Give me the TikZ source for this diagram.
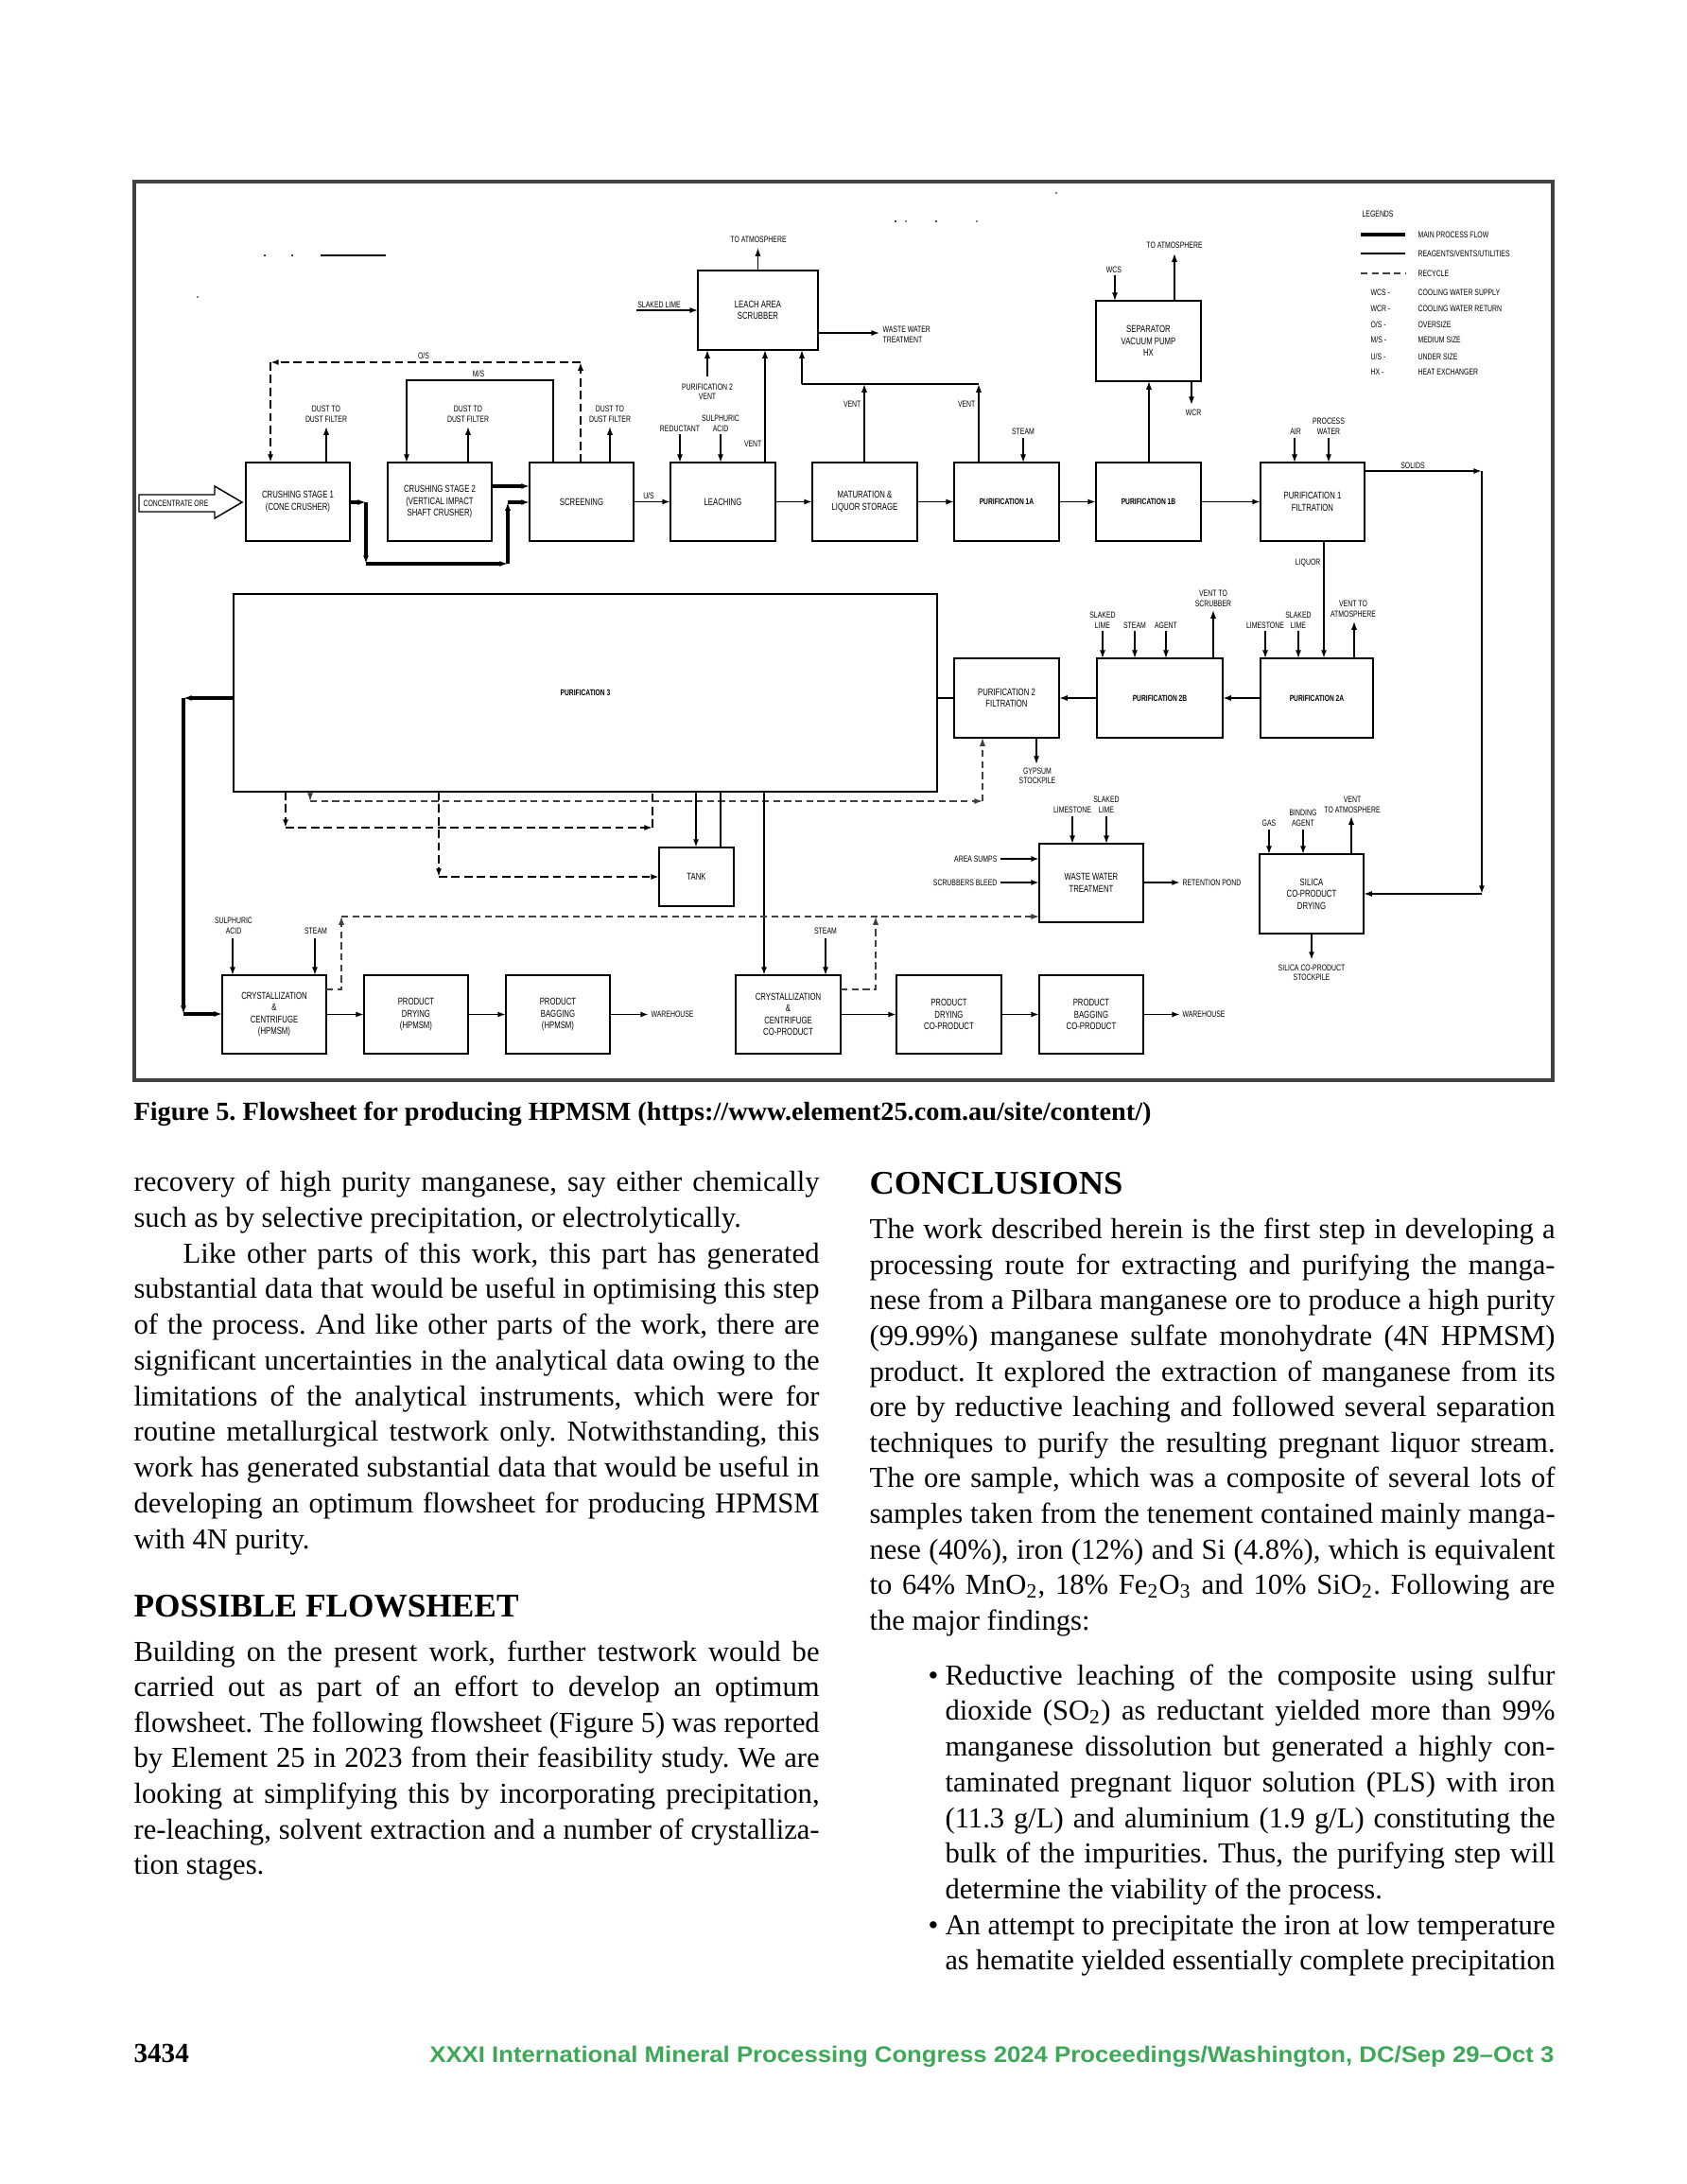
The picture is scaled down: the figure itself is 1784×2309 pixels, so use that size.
\documentclass[tikz,border=0pt]{standalone}
\usepackage{fontspec}
\usepackage{graphicx}
\setmainfont{Liberation Serif}
\newfontfamily\cadfont[FakeStretch=0.74]{Liberation Sans}
\newfontfamily\footsans{Liberation Sans}
\usetikzlibrary{arrows.meta}
\definecolor{ftgreen}{RGB}{62,168,88}
\newdimen\colw \colw=248.71pt
\newdimen\indw \indw=230.87pt
\newdimen\bulw \bulw=221.27pt
\newsavebox\lnbox
\newcommand\jl[2]{\sbox\lnbox{#2}\ifdim\wd\lnbox>#1\relax\resizebox{#1}{\height}{\usebox\lnbox}\else\makebox[#1][s]{#2}\fi}
\newcommand\fitw[2]{\resizebox{#1}{\height}{#2}}
\newcommand\bx[7]{\node[#1, minimum width={(#5-#3)*0.34305pt}, minimum height={(#6-#4)*0.34305pt}] (#2) at ({(#3+#5)/2},{(#4+#6)/2}) {#7};}
\frenchspacing
\begin{document}
\begin{tikzpicture}[x=0.34305pt,y=-0.34305pt,
 box/.style={draw, line width=0.6pt, inner sep=0pt, outer sep=0pt, align=center, font=\cadfont\fontsize{3.6}{4.3}\selectfont},
 boxb/.style={box, font=\cadfont\bfseries\fontsize{3.1}{3.7}\selectfont},
 lab/.style={inner sep=0pt, align=center, font=\cadfont\fontsize{3.2}{3.7}\selectfont},
 thinln/.style={line width=0.45pt},
 medln/.style={line width=0.6pt},
 mainln/.style={line width=1.1pt},
 arr/.style={-{Latex[length=3pt,width=2.1pt]}},
 recA/.style={line width=0.6pt, dash pattern=on 3pt off 1.6pt},
 recB/.style={line width=0.4pt, dash pattern=on 2.5pt off 1.5pt, black!75},
 body/.style={anchor=base west, inner sep=0pt, font=\fontsize{10.5}{12}\selectfont},
]
\fill[white] (0,0) rectangle (1784,2309);
\useasboundingbox (0,0) rectangle (1784,2309);

% frame
\draw[line width=1.1pt, black!75] (142,192) rectangle (1642,1142);
% stray marks
\draw[line width=0.4pt] (339,270) -- (408,270);
\fill (280,270) circle (0.4pt) (309,270) circle (0.4pt) (209,314) circle (0.3pt)
      (947,234) circle (0.4pt) (958,234) circle (0.3pt) (990,234) circle (0.4pt) (1033,234) circle (0.3pt) (1117,204) circle (0.3pt);

% ---------------- boxes
\bx{box}{cs1}{260}{489}{370}{572}{CRUSHING STAGE 1\\(CONE CRUSHER)}
\bx{box}{cs2}{410}{489}{520}{572}{CRUSHING STAGE 2\\(VERTICAL IMPACT\\SHAFT CRUSHER)}
\bx{box}{scr}{560}{489}{670}{572}{SCREENING}
\bx{box}{leach}{709}{489}{820}{572}{LEACHING}
\bx{box}{mat}{859}{489}{970}{572}{MATURATION \&\\LIQUOR STORAGE}
\bx{boxb}{p1a}{1009}{489}{1120}{572}{PURIFICATION 1A}
\bx{boxb}{p1b}{1159}{489}{1270}{572}{PURIFICATION 1B}
\bx{box}{p1f}{1333}{489}{1443}{572}{PURIFICATION 1\\FILTRATION}
\bx{box}{scrub}{738}{286}{865}{370}{LEACH AREA\\SCRUBBER}
\bx{box}{sep}{1159}{318}{1270}{403}{SEPARATOR\\VACUUM PUMP\\HX}
\bx{boxb}{p3}{247}{628}{991}{837}{PURIFICATION 3}
\bx{box}{p2f}{1009}{696}{1120}{780}{PURIFICATION 2\\FILTRATION}
\bx{boxb}{p2b}{1160}{696}{1293}{780}{PURIFICATION 2B}
\bx{boxb}{p2a}{1333}{696}{1452}{780}{PURIFICATION 2A}
\bx{box}{tank}{697}{896}{776}{958}{TANK}
\bx{box}{wwt}{1099}{892}{1209}{975}{WASTE WATER\\TREATMENT}
\bx{box}{sil}{1332}{903}{1442}{987}{SILICA\\CO-PRODUCT\\DRYING}
\bx{box}{cr1}{235}{1031}{345}{1114}{CRYSTALLIZATION\\\&\\CENTRIFUGE\\(HPMSM)}
\bx{box}{pd1}{385}{1031}{495}{1114}{PRODUCT\\DRYING\\(HPMSM)}
\bx{box}{pb1}{535}{1031}{645}{1114}{PRODUCT\\BAGGING\\(HPMSM)}
\bx{box}{cr2}{778}{1031}{889}{1114}{CRYSTALLIZATION\\\&\\CENTRIFUGE\\CO-PRODUCT}
\bx{box}{pd2}{948}{1031}{1059}{1114}{PRODUCT\\DRYING\\CO-PRODUCT}
\bx{box}{pb2}{1099}{1031}{1209}{1114}{PRODUCT\\BAGGING\\CO-PRODUCT}

% ---------------- feed arrow
\draw[line width=0.5pt] (147,523) -- (227,523) -- (227,514) -- (256,531) -- (227,548) -- (227,541) -- (147,541) -- cycle;
\node[lab] (ore) at (186,532) {CONCENTRATE ORE};

% ---------------- crushing circuit
\coordinate (a1) at (387,531); \coordinate (a2) at (387,596);
\coordinate (a3) at (537,596); \coordinate (a4) at (537,531);
\draw[mainln,arr] (cs1.east |- a1) -- (a1);
\draw[mainln,arr] (a1) -- (a2);
\draw[mainln,arr] (a2) -- (a3);
\draw[mainln,arr] (a3) -- (a4);
\draw[mainln,arr] (a4) -- (scr.west |- a4);
\draw[mainln,arr] (cs2.east |- 0,514) -- (scr.west |- 0,514);

% dust
\foreach \n/\xx in {cs1/345, cs2/495, scr/645}{
  \draw[thinln,arr] (\n.north -| \xx,0) -- (\xx,451);
  \node[lab, anchor=south] at (\xx,447) {DUST TO\\DUST FILTER};
}
% O/S recycle
\coordinate (os1) at (614,383); \coordinate (os2) at (286,383);
\draw[recA,arr] (scr.north -| os1) -- (os1);
\draw[recA,arr] (os1) -- (os2);
\draw[recA,arr] (os2) -- (cs1.north -| os2);
\node[lab, anchor=south] at (448,380) {O/S};
% M/S
\draw[thinln,arr] (scr.north -| 585,0) -- (585,402) -- (430,402) -- (cs2.north -| 430,0);
\node[lab, anchor=south] at (506,399) {M/S};

% main row
\draw[medln,arr] (scr.east) -- (leach.west);
\node[lab, anchor=south] at (686,528) {U/S};
\draw[medln,arr] (leach.east) -- (mat.west);
\draw[medln,arr] (mat.east) -- (p1a.west);
\draw[medln,arr] (p1a.east) -- (p1b.west);
\draw[medln,arr] (p1b.east) -- (p1f.west);

% scrubber
\draw[thinln,arr] (scrub.north) -- (801.5,262);
\node[lab, anchor=south] at (802,257) {TO ATMOSPHERE};
\draw[thinln,arr] (673,328) -- (scrub.west |- 0,328);
\node[lab, anchor=south] at (697,326) {SLAKED LIME};
\draw[thinln,arr] (scrub.east |- 0,352) -- (930,352);
\node[lab, anchor=west, align=left] at (933,354) {WASTE WATER\\ TREATMENT};
\draw[thinln,arr] (748,398) -- (scrub.south -| 748,0);
\node[lab, anchor=north] at (748,405) {PURIFICATION 2\\VENT};
\draw[thinln,arr] (leach.north -| 809,0) -- (scrub.south -| 809,0);
\node[lab, anchor=east] at (806,469) {VENT};
\coordinate (v1) at (914,406); \coordinate (v2) at (1035,406); \coordinate (v3) at (848,406);
\draw[thinln,arr] (mat.north -| v1) -- (v1);
\draw[thinln,arr] (p1a.north -| v2) -- (v2);
\draw[thinln] (v2) -- (v3);
\draw[thinln,arr] (v3) -- (scrub.south -| v3);
\node[lab, anchor=east] at (911,427) {VENT};
\node[lab, anchor=east] at (1032,427) {VENT};
\draw[thinln,arr] (719,459) -- (leach.north -| 719,0);
\node[lab, anchor=south] at (719,457) {REDUCTANT};
\draw[thinln,arr] (762,459) -- (leach.north -| 762,0);
\node[lab, anchor=south] at (762,457) {SULPHURIC\\ACID};
\draw[thinln,arr] (1082,463) -- (p1a.north -| 1082,0);
\node[lab, anchor=south] at (1082,460) {STEAM};

% separator
\draw[thinln,arr] (p1b.north -| 1215,0) -- (sep.south -| 1215,0);
\draw[thinln,arr] (1179,291) -- (sep.north -| 1179,0);
\node[lab, anchor=south] at (1178,289) {WCS};
\draw[thinln,arr] (sep.north -| 1242,0) -- (1242,268);
\node[lab, anchor=south] at (1242,263) {TO ATMOSPHERE};
\draw[thinln,arr] (sep.south -| 1260,0) -- (1260,428);
\node[lab, anchor=north] at (1262,432) {WCR};

% purification 1 filtration
\draw[thinln,arr] (1369,463) -- (p1f.north -| 1369,0);
\node[lab, anchor=south] at (1370,460) {AIR};
\draw[thinln,arr] (1405,463) -- (p1f.north -| 1405,0);
\node[lab, anchor=south] at (1405,460) {PROCESS\\WATER};
\coordinate (s1) at (1567,498); \coordinate (s2) at (1567,945);
\draw[medln,arr] (p1f.east |- s1) -- (s1);
\draw[medln,arr] (s1) -- (s2);
\draw[medln,arr] (s2) -- (sil.east |- s2);
\node[lab, anchor=south] at (1494,496) {SOLIDS};
\draw[medln,arr] (p1f.south -| 1400,0) -- (p2a.north -| 1400,0);
\node[lab, anchor=east] at (1397,595) {LIQUOR};

% purification 2
\draw[medln,arr] (p2a.west) -- (p2b.east);
\draw[medln,arr] (p2b.west) -- (p2f.east);
\draw[medln] (p2f.west) -- (p3.east |- p2f.west);
\foreach \xx/\tt in {1166/{SLAKED\\LIME}, 1200/STEAM, 1233/AGENT}{
  \draw[thinln,arr] (\xx,667) -- (p2b.north -| \xx,0);
  \node[lab, anchor=south] at (\xx,665) {\tt};
}
\draw[thinln,arr] (p2b.north -| 1283,0) -- (1283,645);
\node[lab, anchor=south] at (1283,642) {VENT TO\\SCRUBBER};
\foreach \xx/\tt in {1338/LIMESTONE, 1373/{SLAKED\\LIME}}{
  \draw[thinln,arr] (\xx,667) -- (p2a.north -| \xx,0);
  \node[lab, anchor=south] at (\xx,665) {\tt};
}
\draw[thinln,arr] (p2a.north -| 1432,0) -- (1432,657);
\node[lab, anchor=south] at (1431,653) {VENT TO\\ATMOSPHERE};
\draw[thinln,arr] (p2f.south -| 1096,0) -- (1096,808);
\node[lab, anchor=north] at (1097,811) {GYPSUM\\STOCKPILE};

% purification 3 outputs
\coordinate (b1) at (194,738); \coordinate (b2) at (194,1072);
\draw[mainln,arr] (p3.west |- b1) -- (b1);
\draw[mainln,arr] (b1) -- (b2);
\draw[mainln,arr] (b2) -- (cr1.west |- b2);
\coordinate (d1) at (302,875); \coordinate (d2) at (690,875);
\draw[recA,arr] (p3.south -| d1) -- (d1);
\draw[recA,arr] (d1) -- (d2);
\draw[recA] (d2) -- (p3.south -| d2);
\coordinate (e1) at (328,847); \coordinate (e2) at (1039,847);
\draw[recB,arr] (p3.south -| e1) -- (e1);
\draw[recB,arr] (e1) -- (e2);
\draw[recB,arr] (e2) -- (p2f.south -| e2);
\coordinate (f1) at (464,927);
\draw[recA,arr] (p3.south -| f1) -- (f1);
\draw[recA,arr] (f1) -- (tank.west |- f1);
\draw[medln,arr] (p3.south -| 736,0) -- (tank.north -| 736,0);
\draw[thinln] (tank.north -| 762,0) -- (p3.south -| 762,0);
\draw[medln,arr] (p3.south -| 808,0) -- (cr2.north -| 808,0);

% recycle to waste water
\coordinate (g1) at (361,1046); \coordinate (g2) at (361,969);
\draw[recB,arr] (cr1.east |- g1) -- (g1) -- (g2);
\draw[recB,arr] (g2) -- (wwt.west |- g2);
\coordinate (h1) at (926,1046); \coordinate (h2) at (926,969);
\draw[recB,arr] (cr2.east |- h1) -- (h1) -- (h2);

% bottom rows
\draw[thinln,arr] (246,992) -- (cr1.north -| 246,0);
\node[lab, anchor=south] at (247,988) {SULPHURIC\\ACID};
\draw[thinln,arr] (333,992) -- (cr1.north -| 333,0);
\node[lab, anchor=south] at (334,988) {STEAM};
\draw[medln,arr] (cr1.east) -- (pd1.west);
\draw[medln,arr] (pd1.east) -- (pb1.west);
\draw[medln,arr] (pb1.east) -- (686,1072.5);
\node[lab, anchor=west] at (688,1072.5) {WAREHOUSE};
\draw[thinln,arr] (873,992) -- (cr2.north -| 873,0);
\node[lab, anchor=south] at (873,988) {STEAM};
\draw[medln,arr] (cr2.east) -- (pd2.west);
\draw[medln,arr] (pd2.east) -- (pb2.west);
\draw[medln,arr] (pb2.east) -- (1248,1072.5);
\node[lab, anchor=west] at (1250,1072.5) {WAREHOUSE};

% waste water treatment
\draw[medln,arr] (1058,908) -- (wwt.west |- 0,908);
\node[lab, anchor=east] at (1055,908) {AREA SUMPS};
\draw[medln,arr] (1058,933) -- (wwt.west |- 0,933);
\node[lab, anchor=east] at (1055,933) {SCRUBBERS BLEED};
\draw[thinln,arr] (1134,863) -- (wwt.north -| 1134,0);
\node[lab, anchor=south] at (1134,860) {LIMESTONE};
\draw[thinln,arr] (1170,863) -- (wwt.north -| 1170,0);
\node[lab, anchor=south] at (1170,860) {SLAKED\\LIME};
\draw[medln,arr] (wwt.east |- 0,933) -- (1248,933);
\node[lab, anchor=west] at (1250,933) {RETENTION POND};

% silica
\draw[thinln,arr] (1342,877) -- (sil.north -| 1342,0);
\node[lab, anchor=south] at (1342,874) {GAS};
\draw[thinln,arr] (1378,877) -- (sil.north -| 1378,0);
\node[lab, anchor=south] at (1378,874) {BINDING\\AGENT};
\draw[thinln,arr] (sil.north -| 1429,0) -- (1429,863);
\node[lab, anchor=south] at (1430,860) {VENT\\TO ATMOSPHERE};
\draw[medln,arr] (sil.south -| 1387,0) -- (1387,1015);
\node[lab, anchor=north] at (1387,1019) {SILICA CO-PRODUCT\\STOCKPILE};

% legend
\node[lab, anchor=west] (lg) at (1440,226) {LEGENDS};
\draw[mainln] (1439,248) -- (1486,248);
\node[lab, anchor=west] at (1499,248) {MAIN PROCESS FLOW};
\draw[thinln] (1439,268) -- (1486,268);
\node[lab, anchor=west] at (1499,268) {REAGENTS/VENTS/UTILITIES};
\draw[recB] (1439,289) -- (1486,289);
\node[lab, anchor=west] at (1499,289) {RECYCLE};
\foreach \yy/\ab/\ds in {309/WCS/COOLING WATER SUPPLY, 326/WCR/COOLING WATER RETURN, 343/O\slash S/OVERSIZE, 359/M\slash S/MEDIUM SIZE, 377/U\slash S/UNDER SIZE, 393/HX/HEAT EXCHANGER}{
  \node[lab, anchor=west] at (1449,\yy) {\ab\ -};
  \node[lab, anchor=west] at (1499,\yy) {\ds};
}

% ---------------- caption
\node[anchor=base west, inner sep=0pt] (cap) at (141,1184) {\fitw{369.1pt}{\bfseries\fontsize{9.5}{11}\selectfont Figure 5. Flowsheet for producing HPMSM (https://www.element25.com.au/site/content/)}};

% ---------------- left column
\node[body] (l1) at (141,1259) {\jl{\colw}{recovery of high purity manganese, say either chemically}};
\node[body] (l2) at (141,1297) {such as by selective precipitation, or electrolytically.};
\node[body] (l3) at (193,1335) {\jl{\indw}{Like other parts of this work, this part has generated}};
\node[body] (l4) at (141,1372) {\jl{\colw}{substantial data that would be useful in optimising this step}};
\node[body] (l5) at (141,1410) {\jl{\colw}{of the process. And like other parts of the work, there are}};
\node[body] (l6) at (141,1448) {\jl{\colw}{significant uncertainties in the analytical data owing to the}};
\node[body] (l7) at (141,1486) {\jl{\colw}{limitations of the analytical instruments, which were for}};
\node[body] (l8) at (141,1523) {\jl{\colw}{routine metallurgical testwork only. Notwithstanding, this}};
\node[body] (l9) at (141,1561) {\jl{\colw}{work has generated substantial data that would be useful in}};
\node[body] (l10) at (141,1599) {\jl{\colw}{developing an optimum flowsheet for producing HPMSM}};
\node[body] (l11) at (141,1637) {with 4N purity.};
\node[anchor=base west, inner sep=0pt] (h1) at (141,1709) {\fitw{139.6pt}{\bfseries\fontsize{12}{14}\selectfont POSSIBLE FLOWSHEET}};
\node[body] (l12) at (141,1756) {\jl{\colw}{Building on the present work, further testwork would be}};
\node[body] (l13) at (141,1793) {\jl{\colw}{carried out as part of an effort to develop an optimum}};
\node[body] (l14) at (141,1831) {\jl{\colw}{flowsheet. The following flowsheet (Figure 5) was reported}};
\node[body] (l15) at (141,1868) {\jl{\colw}{by Element 25 in 2023 from their feasibility study. We are}};
\node[body] (l16) at (141,1906) {\jl{\colw}{looking at simplifying this by incorporating precipitation,}};
\node[body] (l17) at (141,1944) {\jl{\colw}{re-leaching, solvent extraction and a number of crystalliza-}};
\node[body] (l18) at (141,1981) {tion stages.};

% ---------------- right column
\node[anchor=base west, inner sep=0pt] (h2) at (919,1262) {\fitw{91.9pt}{\bfseries\fontsize{12}{14}\selectfont CONCLUSIONS}};
\node[body] (r1) at (919,1309) {\jl{\colw}{The work described herein is the first step in developing a}};
\node[body] (r2) at (919,1347) {\jl{\colw}{processing route for extracting and purifying the manga-}};
\node[body] (r3) at (919,1384) {\jl{\colw}{nese from a Pilbara manganese ore to produce a high purity}};
\node[body] (r4) at (919,1422) {\jl{\colw}{(99.99\%) manganese sulfate monohydrate (4N HPMSM)}};
\node[body] (r5) at (919,1460) {\jl{\colw}{product. It explored the extraction of manganese from its}};
\node[body] (r6) at (919,1497) {\jl{\colw}{ore by reductive leaching and followed several separation}};
\node[body] (r7) at (919,1535) {\jl{\colw}{techniques to purify the resulting pregnant liquor stream.}};
\node[body] (r8) at (919,1572) {\jl{\colw}{The ore sample, which was a composite of several lots of}};
\node[body] (r9) at (919,1610) {\jl{\colw}{samples taken from the tenement contained mainly manga-}};
\node[body] (r10) at (919,1648) {\jl{\colw}{nese (40\%), iron (12\%) and Si (4.8\%), which is equivalent}};
\node[body] (r11) at (919,1685) {\jl{\colw}{to 64\% MnO\textsubscript{2}, 18\% Fe\textsubscript{2}O\textsubscript{3} and 10\% SiO\textsubscript{2}. Following are}};
\node[body] (r12) at (919,1723) {the major findings:};
\node[body] (bu1) at (981,1781) {\textbullet};
\node[body] (r13) at (999,1781) {\jl{\bulw}{Reductive leaching of the composite using sulfur}};
\node[body] (r14) at (999,1818) {\jl{\bulw}{dioxide (SO\textsubscript{2}) as reductant yielded more than 99\%}};
\node[body] (r15) at (999,1856) {\jl{\bulw}{manganese dissolution but generated a highly con-}};
\node[body] (r16) at (999,1894) {\jl{\bulw}{taminated pregnant liquor solution (PLS) with iron}};
\node[body] (r17) at (999,1932) {\jl{\bulw}{(11.3 g/L) and aluminium (1.9 g/L) constituting the}};
\node[body] (r18) at (999,1969) {\jl{\bulw}{bulk of the impurities. Thus, the purifying step will}};
\node[body] (r19) at (999,2007) {determine the viability of the process.};
\node[body] (bu2) at (981,2045) {\textbullet};
\node[body] (r20) at (999,2045) {\jl{\bulw}{An attempt to precipitate the iron at low temperature}};
\node[body] (r21) at (999,2082) {\jl{\bulw}{as hematite yielded essentially complete precipitation}};

% ---------------- footer
\node[anchor=base west, inner sep=0pt] (pg) at (141,2180) {\bfseries\fontsize{10}{12}\selectfont 3434};
\node[anchor=base east, inner sep=0pt, text=ftgreen] (ft) at (1644,2180) {\fitw{407.9pt}{\footsans\bfseries\fontsize{8.2}{10}\selectfont XXXI International Mineral Processing Congress 2024 Proceedings/Washington, DC/Sep 29–Oct 3}};
\end{tikzpicture}
\end{document}
